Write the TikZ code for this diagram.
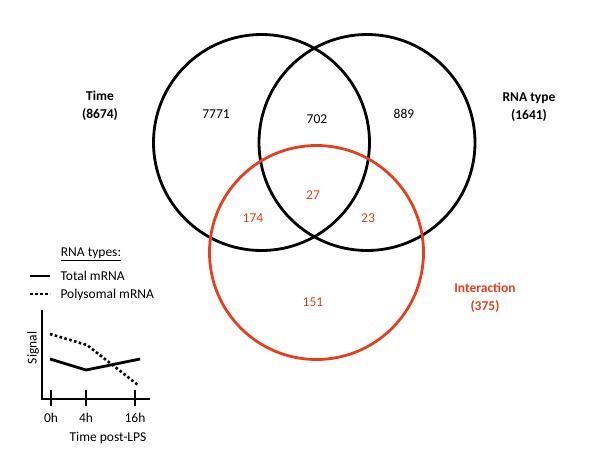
\documentclass[tikz,border=0pt]{standalone}
\usepackage{fontspec}
\setmainfont{Carlito}
\usetikzlibrary{calc}
\definecolor{intred}{RGB}{232,62,30}
\def\setsize{\fontsize{13.5}{18}\selectfont}

\begin{document}
\begin{tikzpicture}[x=1pt, y=-1pt, font=\setsize,
		setlabel/.style={align=center, font=\setsize\bfseries},
		count/.style={inner sep=1pt}]
		%%%%% START %%%%%
		\useasboundingbox (0, 0) rectangle (600, 450);
		
		% venn circles
		\draw[line width=2.8pt] (261.5, 142.5) circle (108pt);
		\draw[line width=2.8pt] (367, 142.5) circle (108pt);
		\draw[line width=2.8pt, color=intred] (316.5, 252.5) circle (107pt);
		
		\node[setlabel] (time) at (100, 106) {Time\\(8674)};
		\node[setlabel] (rnatype) at (529, 107) {RNA type\\(1641)};
		\node[setlabel, color=intred] (inter) at (485, 298) {Interaction\\(375)};
		
		\node[count] (t) at (216, 114) {7771};
		\node[count] (tr) at (317, 119) {702};
		\node[count] (r) at (404, 114) {889};
		\node[count, color=intred] (tri) at (313, 195) {27};
		\node[count, color=intred] (ti) at (253, 218) {174};
		\node[count, color=intred] (ri) at (368, 218) {23};
		\node[count, color=intred] (i) at (313, 302) {151};
		
		% legend
		\node (legtitle) at (91, 254) {\underline{RNA types:}};
		\draw[line width=2.8pt] (30, 276) -- (50, 276);
		\node[anchor=west] (legtotal) at (57, 276) {Total mRNA};
		\draw[line width=2.6pt, dash pattern=on 2.6pt off 2.4pt] (30, 294) -- (50, 294);
		\node[anchor=west] (legpoly) at (57, 295) {Polysomal mRNA};
		
		% small chart
		\draw[line width=1.5pt] (42, 310) -- (42, 399) -- (150, 399);
		\foreach \tx/\tl in {51/0h, 86/4h, 135/16h}{
			\draw[line width=1.5pt] (\tx, 390) -- (\tx, 406);
			\node (tick\tl) at (\tx, 418) {\tl};
		}
		\node[rotate=90] (signal) at (33, 348) {Signal};
		\node (timepost) at (108, 438) {Time post-LPS};
		
		\draw[line width=2.8pt] (50, 359) -- (86, 370) -- (140, 359);
		\draw[line width=2.6pt, dash pattern=on 2.6pt off 2.4pt] (50, 334) -- (87, 345) -- (138, 385);
		
		%%%%% END %%%%%
	\end{tikzpicture}
\end{document}
